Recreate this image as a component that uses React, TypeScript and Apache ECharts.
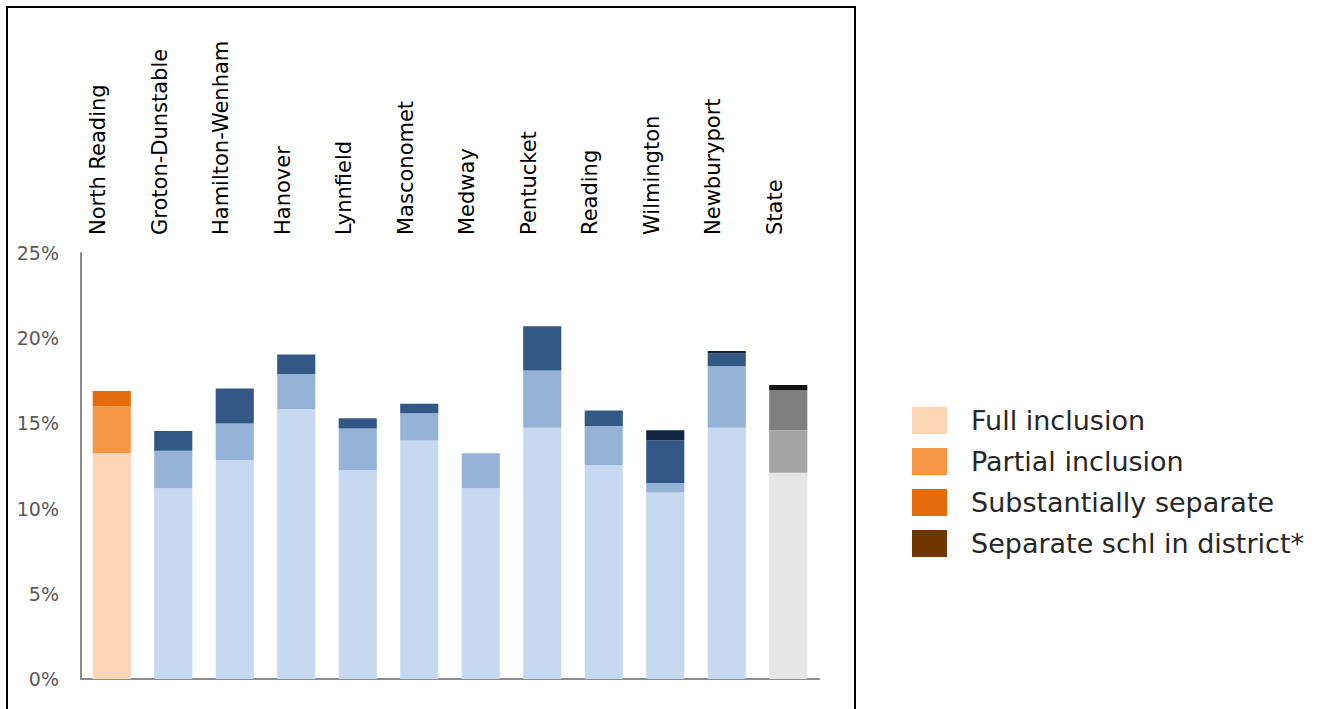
import React, { useEffect, useRef } from "react";
import * as echarts from "echarts";

const categories = [
  "North Reading",
  "Groton-Dunstable",
  "Hamilton-Wenham",
  "Hanover",
  "Lynnfield",
  "Masconomet",
  "Medway",
  "Pentucket",
  "Reading",
  "Wilmington",
  "Newburyport",
  "State",
];
const seriesNames = [
  "Full inclusion",
  "Partial inclusion",
  "Substantially separate",
  "Separate schl in district*",
];
const fullInclusion = [13.25, 11.2, 12.85, 15.85, 12.25, 14.0, 11.2, 14.75, 12.55, 10.95, 14.75, 12.1];
const partialInclusion = [2.75, 2.2, 2.15, 2.05, 2.45, 1.6, 2.05, 3.35, 2.3, 0.55, 3.6, 2.5];
const substantiallySeparate = [0.9, 1.15, 2.05, 1.15, 0.6, 0.55, 0, 2.6, 0.9, 2.5, 0.75, 2.35];
const separateSchool = [0, 0, 0, 0, 0, 0, 0, 0, 0, 0.6, 0.15, 0.3];
const colorGroup = ["orange", "blue", "blue", "blue", "blue", "blue", "blue", "blue", "blue", "blue", "blue", "gray"];
const yTicks = { min: 0, max: 25, interval: 5 };

const palettes: Record<string, string[]> = {
  orange: ["#FCD5B5", "#F79646", "#E46C0A", "#713600"],
  blue: ["#C6D9F1", "#95B3D7", "#335886", "#10253F"],
  gray: ["#E6E6E6", "#A6A6A6", "#808080", "#111111"],
};

const FONT = "DejaVu Sans";

export default function App() {
  const ref = useRef<HTMLDivElement>(null);
  useEffect(() => {
    if (!ref.current) return;
    const chart = echarts.init(ref.current, null, { renderer: "svg" });
    const values = [fullInclusion, partialInclusion, substantiallySeparate, separateSchool];
    const series = values.map((arr, si) => ({
      name: seriesNames[si],
      type: "bar",
      stack: "total",
      xAxisIndex: 0,
      barWidth: "62%",
      itemStyle: { color: palettes.orange[si] },
      data: arr.map((v, i) => ({
        value: v,
        itemStyle: { color: palettes[colorGroup[i]][si] },
      })),
    }));
    chart.setOption({
      animation: false,
      backgroundColor: "#ffffff",
      grid: { left: 81, right: 501, top: 253, bottom: 30, containLabel: false },
      xAxis: [
        {
          type: "category",
          data: categories,
          position: "bottom",
          axisLine: { show: true, lineStyle: { color: "#8c8c8c", width: 2 } },
          axisTick: { show: false },
          axisLabel: { show: false },
          splitLine: { show: false },
        },
        {
          type: "category",
          data: categories,
          position: "top",
          axisLine: { show: false },
          axisTick: { show: false },
          splitLine: { show: false },
          axisLabel: {
            show: true,
            interval: 0,
            rotate: -90,
            margin: 18,
            verticalAlign: "bottom",
            padding: [0, 0, 3, 0],
            color: "#000000",
            fontFamily: FONT,
            fontSize: 21,
          },
        },
      ],
      yAxis: {
        type: "value",
        min: yTicks.min,
        max: yTicks.max,
        interval: yTicks.interval,
        axisLine: { show: true, lineStyle: { color: "#8c8c8c", width: 2 } },
        axisTick: { show: false },
        splitLine: { show: false },
        axisLabel: {
          formatter: "{value}%",
          color: "#595959",
          fontFamily: FONT,
          fontSize: 19,
          margin: 22,
        },
      },
      legend: {
        orient: "vertical",
        left: 912,
        top: 407,
        padding: 0,
        itemWidth: 35,
        itemHeight: 27,
        itemGap: 14,
        icon: "rect",
        selectedMode: false,
        data: seriesNames,
        textStyle: {
          fontFamily: FONT,
          fontSize: 27,
          color: "#262626",
          lineHeight: 27,
          padding: [0, 0, 0, 19],
        },
      },
      graphic: [
        {
          type: "rect",
          shape: { x: 7, y: 7, width: 848, height: 720 },
          style: { fill: "none", stroke: "#000000", lineWidth: 2 },
          silent: true,
        },
      ],
      series,
    });
    return () => chart.dispose();
  }, []);
  return (
    <div
      ref={ref}
      style={{ position: "fixed", left: 0, top: 0, width: 1320, height: 709 }}
    />
  );
}
